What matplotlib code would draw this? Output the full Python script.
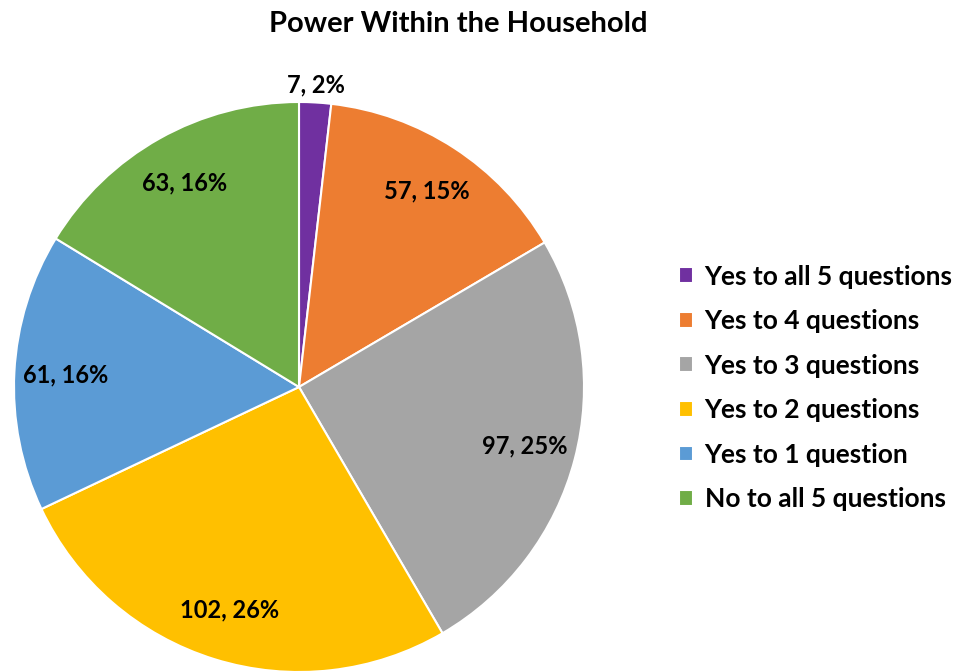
import matplotlib.pyplot as plt
import numpy as np

plt.rcParams['font.family'] = ['Lato', 'DejaVu Sans']

categories = ['Yes to all 5 questions', 'Yes to 4 questions', 'Yes to 3 questions',
              'Yes to 2 questions', 'Yes to 1 question', 'No to all 5 questions']
counts = [7, 57, 97, 102, 61, 63]
percents = [2, 15, 25, 26, 16, 16]
colors = ['#7030A0', '#ED7D31', '#A5A5A5', '#FFC000', '#5B9BD5', '#70AD47']

fig = plt.figure(figsize=(9.61, 6.71), dpi=100)
ax = fig.add_axes([14 / 961, -1 / 671, 570 / 961, 570 / 671])

wedges, _ = ax.pie(counts, colors=colors, startangle=90, counterclock=False,
                   radius=1, wedgeprops=dict(edgecolor='white', linewidth=1.5))
ax.set_xlim(-1, 1)
ax.set_ylim(-1, 1)
ax.set_aspect('equal')

# data labels: count, percent
total = sum(counts)
start = 90.0
for i, (c, p) in enumerate(zip(counts, percents)):
    span = c / total * 360
    mid = np.deg2rad(start - span / 2)
    start -= span
    dist = 1.06 if i == 0 else 0.82
    ax.text(dist * np.cos(mid), dist * np.sin(mid), f'{c}, {p}%',
            ha='center', va='center', fontsize=17, fontweight='bold', color='black')

fig.text(458 / 961, 1 - 24 / 671, 'Power Within the Household', ha='center', va='center',
         fontsize=21, fontweight='bold')

fig.legend(wedges, categories, loc='center left', bbox_to_anchor=(668 / 961, 1 - 388 / 671),
           frameon=False, prop=dict(size=19, weight='bold'), handlelength=0.55,
           handleheight=0.55, labelspacing=0.78, handletextpad=0.44, borderaxespad=0)

fig.savefig('out.png', dpi=100)
